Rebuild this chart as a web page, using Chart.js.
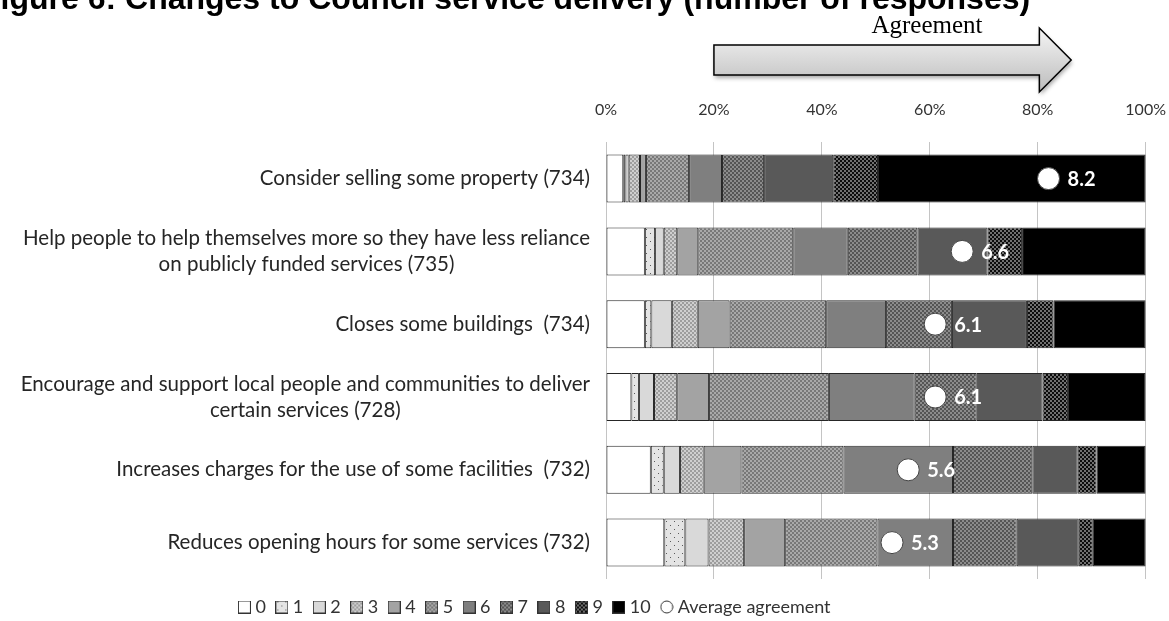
<!DOCTYPE html>
<html>
<head>
<meta charset="utf-8">
<title>Changes to Council service delivery</title>
<script src="https://cdn.jsdelivr.net/npm/chart.js@4.4.1/dist/chart.umd.min.js"></script>
<style>
  html, body { margin: 0; padding: 0; background: #fff; }
  canvas { display: block; }
</style>
</head>
<body>
<canvas id="chart" width="1169" height="621"></canvas>
<script>
const figureTitle = 'Figure 6: Changes to Council service delivery (number of responses)';

const categories = [
  ['Consider selling some property (734)'],
  ['Help people to help themselves more so they have less reliance', 'on publicly funded services (735)'],
  ['Closes some buildings  (734)'],
  ['Encourage and support local people and communities to deliver', 'certain services (728)'],
  ['Increases charges for the use of some facilities  (732)'],
  ['Reduces opening hours for some services (732)']
];

const scoreLevels = ['0', '1', '2', '3', '4', '5', '6', '7', '8', '9', '10'];

// share of respondents (%) giving each score, one entry per proposal
const score0  = [3.2, 7.2, 7.2, 4.7, 8.3, 10.8];
const score1  = [0.4, 1.9, 1.2, 1.4, 2.4, 3.9];
const score2  = [0.6, 1.6, 3.8, 2.8, 3.0, 4.3];
const score3  = [2.1, 2.5, 4.8, 4.3, 4.4, 6.6];
const score4  = [1.1, 3.9, 5.9, 5.9, 7.0, 7.6];
const score5  = [8.0, 17.6, 17.9, 22.2, 18.9, 17.1];
const score6  = [6.1, 10.1, 11.1, 15.9, 20.3, 14.0];
const score7  = [7.8, 12.9, 12.2, 11.5, 14.7, 11.8];
const score8  = [12.8, 13.0, 13.9, 12.2, 8.4, 11.5];
const score9  = [8.3, 6.4, 4.9, 4.7, 3.5, 2.6];
const score10 = [49.6, 22.9, 17.1, 14.4, 9.1, 9.8];

const averageScores = [8.2, 6.6, 6.1, 6.1, 5.6, 5.3];
const xTicks = [0, 20, 40, 60, 80, 100];

const seriesValues = [score0, score1, score2, score3, score4, score5, score6, score7, score8, score9, score10];

const canvas = document.getElementById('chart');
const ctx = canvas.getContext('2d');

// little tiles for the dotted / speckled fills
function tile(size, bg, fg, dots) {
  const c = document.createElement('canvas');
  c.width = c.height = size;
  const g = c.getContext('2d');
  g.fillStyle = bg;
  g.fillRect(0, 0, size, size);
  g.fillStyle = fg;
  dots.forEach(d => g.fillRect(d[0], d[1], d[2], d[3]));
  return ctx.createPattern(c, 'repeat');
}
function checker(a, b) {
  return tile(4, a, b, [[0, 0, 2, 2], [2, 2, 2, 2]]);
}

const fills = [
  '#ffffff',
  tile(8, '#e4e4e4', '#5a5a5a', [[2, 1, 1, 1], [6, 5, 1, 1]]),
  '#d9d9d9',
  checker('#cfcfcf', '#9d9d9d'),
  '#a3a3a3',
  checker('#a9a9a9', '#787878'),
  '#7f7f7f',
  checker('#8c8c8c', '#555555'),
  '#595959',
  checker('#707070', '#0c0c0c'),
  '#000000'
];

function legendSquare(fill) {
  const c = document.createElement('canvas');
  c.width = c.height = 13;
  const g = c.getContext('2d');
  g.fillStyle = fill;
  g.fillRect(0.5, 0.5, 12, 12);
  g.strokeStyle = '#333';
  g.lineWidth = 1;
  g.strokeRect(0.5, 0.5, 12, 12);
  return c;
}
function legendCircle() {
  const c = document.createElement('canvas');
  c.width = c.height = 14;
  const g = c.getContext('2d');
  g.beginPath();
  g.arc(7, 7, 6, 0, Math.PI * 2);
  g.fillStyle = '#fff';
  g.fill();
  g.strokeStyle = '#333';
  g.lineWidth = 1;
  g.stroke();
  return c;
}
const legendIcons = fills.map(legendSquare).concat([legendCircle()]);

Chart.defaults.font.family = 'Lato, "Open Sans", sans-serif';
Chart.defaults.color = '#333';

const datasets = seriesValues.map((vals, i) => ({
  label: scoreLevels[i],
  data: vals,
  backgroundColor: fills[i],
  borderColor: '#262626',
  borderWidth: 1,
  borderSkipped: false,
  barPercentage: 0.66,
  categoryPercentage: 1,
  order: 1
}));

datasets.push({
  type: 'line',
  label: 'Average agreement',
  data: averageScores.map(s => s * 10),
  showLine: false,
  pointRadius: 11,
  pointBackgroundColor: '#ffffff',
  pointBorderColor: '#444',
  pointBorderWidth: 1,
  order: 0
});

const avgIndex = datasets.length - 1;

const decorations = {
  id: 'decorations',
  afterDatasetsDraw(chart) {
    const c = chart.ctx;
    const meta = chart.getDatasetMeta(avgIndex);
    c.save();
    c.fillStyle = '#fff';
    c.font = 'bold 20px Lato, "Open Sans", sans-serif';
    c.textAlign = 'left';
    c.textBaseline = 'middle';
    meta.data.forEach((pt, i) => {
      c.fillText(averageScores[i].toFixed(1), pt.x + 19, pt.y + 1);
    });
    c.restore();
  },
  afterDraw(chart) {
    const c = chart.ctx;
    const x = chart.scales.x, y = chart.scales.y;
    c.save();

    // caption, clipped by the top/left edge
    c.fillStyle = '#000';
    c.font = 'bold 32px "Liberation Sans", Arial, sans-serif';
    c.textAlign = 'left';
    c.textBaseline = 'alphabetic';
    c.fillText(figureTitle, -19, 9);

    // agreement arrow
    const x0 = x.getPixelForValue(20);
    const xb = x.getPixelForValue(80.3);
    const xt = x.getPixelForValue(86.2);
    c.beginPath();
    c.moveTo(x0, 45);
    c.lineTo(xb, 45);
    c.lineTo(xb, 28);
    c.lineTo(xt, 60);
    c.lineTo(xb, 92);
    c.lineTo(xb, 75);
    c.lineTo(x0, 75);
    c.closePath();
    const grad = c.createLinearGradient(0, 28, 0, 92);
    grad.addColorStop(0, '#f5f5f5');
    grad.addColorStop(1, '#bcbcbc');
    c.shadowColor = 'rgba(0,0,0,0.35)';
    c.shadowBlur = 4;
    c.shadowOffsetX = 1;
    c.shadowOffsetY = 3;
    c.fillStyle = grad;
    c.fill();
    c.shadowColor = 'transparent';
    c.lineWidth = 1.5;
    c.strokeStyle = '#000';
    c.stroke();

    c.fillStyle = '#000';
    c.font = '25px "Liberation Serif", "Times New Roman", serif';
    c.textAlign = 'center';
    c.fillText('Agreement', 927, 33);

    // category labels: right aligned, wrapped lines centred on each other
    c.fillStyle = '#262626';
    c.font = '20.5px Lato, "Open Sans", sans-serif';
    c.textBaseline = 'middle';
    const right = x.left - 16;
    const lineGap = 26;
    categories.forEach((lines, i) => {
      const cy = y.getPixelForValue(i);
      const widest = Math.max(...lines.map(l => c.measureText(l).width));
      const cx = right - widest / 2;
      const top = cy - (lines.length - 1) * lineGap / 2;
      lines.forEach((l, k) => c.fillText(l, cx, top + k * lineGap));
    });
    c.restore();
  }
};

// nudge the legend row to where it sits under the bars
const legendNudge = {
  id: 'legendNudge',
  afterLayout(chart) {
    const l = chart.legend;
    l.left -= 47;
    l.right -= 47;
    l.top += 5;
    l.bottom += 5;
  }
};

new Chart(ctx, {
  type: 'bar',
  data: { labels: categories, datasets: datasets },
  plugins: [decorations, legendNudge],
  options: {
    indexAxis: 'y',
    responsive: false,
    animation: false,
    devicePixelRatio: 1,
    layout: { padding: { top: 97, right: 2, bottom: 0, left: 0 } },
    scales: {
      x: {
        position: 'top',
        stacked: true,
        min: 0,
        max: 100,
        afterBuildTicks: (scale) => { scale.ticks = xTicks.map(v => ({ value: v })); },
        ticks: { padding: 3, color: '#333', font: { size: 16 }, callback: v => v + '%' },
        grid: { color: '#c4c4c4', lineWidth: 1, drawTicks: true, tickLength: 20, tickColor: 'rgba(0,0,0,0)' },
        border: { display: false }
      },
      y: {
        stacked: true,
        ticks: { display: false },
        grid: { display: false },
        border: { display: false },
        afterFit: (scale) => { scale.width = 606; }
      }
    },
    plugins: {
      title: { display: false },
      tooltip: { enabled: false },
      legend: {
        position: 'bottom',
        labels: {
          usePointStyle: true,
          boxWidth: 4,
          boxHeight: 13,
          padding: 14,
          color: '#333',
          font: { size: 18 },
          sort: (a, b) => a.datasetIndex - b.datasetIndex,
          generateLabels: (chart) => {
            const items = Chart.defaults.plugins.legend.labels.generateLabels(chart);
            items.forEach(it => { it.pointStyle = legendIcons[it.datasetIndex]; });
            return items;
          }
        }
      }
    }
  }
});
</script>
</body>
</html>
